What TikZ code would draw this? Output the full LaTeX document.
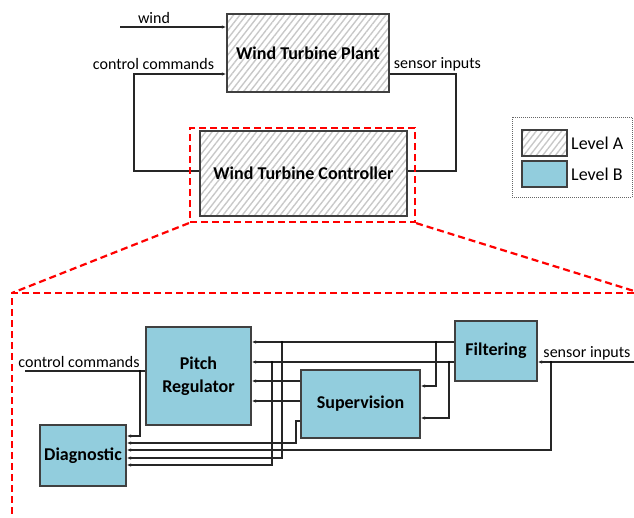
\documentclass[tikz,border=0pt]{standalone}
\usepackage{fontspec}
\setmainfont{Carlito}
\usetikzlibrary{arrows.meta,patterns.meta,calc}
\definecolor{levelB}{RGB}{146,205,221}
\definecolor{edge}{RGB}{64,64,64}
\definecolor{hatch}{RGB}{200,200,200}

\tikzset{
  boxtext/.style={inner sep=0pt, align=center, font=\fontsize{18}{22}\selectfont\bfseries},
  lvlA/.style={boxtext, draw=edge, line width=1.3pt,
    pattern={Lines[angle=52,distance=5pt,line width=1.4pt]}, pattern color=hatch},
  lvlB/.style={boxtext, draw=edge, line width=1.3pt, fill=levelB},
  wire/.style={draw=black!85, line width=1.1pt},
  arr/.style={wire, -{Latex[length=4.5pt,width=3.5pt]}},
  lbl/.style={font=\fontsize{16}{18}\selectfont, inner sep=0pt},
  legtext/.style={font=\fontsize{18}{20}\selectfont, inner sep=0pt, anchor=west},
  jdot/.style={circle, fill=black, inner sep=0pt, minimum size=2.4pt},
  zoomline/.style={draw=red, line width=2.2pt, dash pattern=on 7pt off 4pt},
}

\begin{document}
\begin{tikzpicture}[x=1pt,y=-1pt]
\useasboundingbox (0,0) rectangle (634,517);

% ---------- system level ----------
\node[lvlA, minimum width=162pt, minimum height=78pt] (plant) at (308,53) {Wind Turbine Plant};
\node[lvlA, minimum width=207pt, minimum height=85pt] (ctrl) at (303.5,173.5) {Wind Turbine Controller};

\coordinate (windsrc) at (120,27);
\draw[arr] (windsrc) -- (windsrc -| plant.west);
\node[lbl] (windlbl) at (154,18) {wind};

\draw[arr] (ctrl.west |- 0,171) -- (134,171) -- (134,74) -- (plant.west |- 0,74);
\node[lbl] (cclbl) at (153.5,64) {control commands};

\draw[wire] (plant.east |- 0,74) -- (456,74) -- (456,171) -- (ctrl.east |- 0,171);
\node[lbl] (senslbl) at (437.5,64) {sensor inputs};

% ---------- legend ----------
\node[draw=black!60, densely dotted, line width=1pt, minimum width=120pt, minimum height=80pt] (legend) at (572,157) {};
\node[draw=edge, line width=1.3pt, pattern={Lines[angle=52,distance=5pt,line width=1.4pt]}, pattern color=hatch,
      minimum width=45pt, minimum height=26pt, inner sep=0pt] (swA) at (544.5,143) {};
\node[draw=edge, line width=1.3pt, fill=levelB, minimum width=45pt, minimum height=26pt, inner sep=0pt] (swB) at (544.5,174) {};
\node[legtext] (legA) at (571,143) {Level A};
\node[legtext] (legB) at (571,174) {Level B};

% ---------- controller internals ----------
\node[lvlB, minimum width=105pt, minimum height=98pt] (pitch) at (198.5,376) {Pitch\\[1pt]Regulator};
\node[lvlB, minimum width=86pt, minimum height=61pt] (diag) at (83,455.5) {Diagnostic};
\node[lvlB, minimum width=119pt, minimum height=68pt] (sup) at (360.5,404) {Supervision};
\node[lvlB, minimum width=82pt, minimum height=60pt] (filt) at (496,351) {Filtering};

% junctions
\coordinate (jA1) at (436,342);
\coordinate (jA2) at (282,342);
\coordinate (jB1) at (449,362);
\coordinate (jB2) at (272,362);
\coordinate (jS) at (551,362);
\coordinate (jC) at (140,371);

% filtering outputs
\draw[arr] (filt.west |- jA1) -- (pitch.east |- jA1);
\draw[arr] (filt.west |- jB1) -- (pitch.east |- jB1);
\draw[arr] (jA1) -- (436,386) -- (sup.east |- 0,386);
\draw[arr] (jB1) -- (449,418) -- (sup.east |- 0,418);
\draw[arr] (jA2) -- (282,458) -- (diag.east |- 0,458);
\draw[arr] (jB2) -- (272,465) -- (diag.east |- 0,465);

% supervision outputs
\draw[arr] (sup.west |- 0,381) -- (pitch.east |- 0,381);
\draw[arr] (sup.west |- 0,401) -- (pitch.east |- 0,401);
\draw[arr] (sup.west |- 0,421) -- (296,421) -- (296,443) -- (diag.east |- 0,443);

% sensor inputs
\coordinate (sensin) at (634,362);
\draw[arr] (sensin) -- (filt.east |- sensin);
\draw[arr] (jS) -- (551,450) -- (diag.east |- 0,450);
\node[lbl] (senslbl2) at (587,353) {sensor inputs};

% control commands out of the pitch regulator
\coordinate (ccout) at (25,371);
\draw[wire] (pitch.west |- jC) -- (ccout);
\draw[arr] (jC) -- (140,436) -- (diag.east |- 0,436);
\node[lbl] (cclbl2) at (79,362) {control commands};

\foreach \j in {jA1,jA2,jB1,jB2,jS,jC} \node[jdot] at (\j) {};

% ---------- zoom frame ----------
\node[zoomline, minimum width=225pt, minimum height=94pt, inner sep=0pt] (redbox) at (302.5,175) {};
\coordinate (zl) at (12,293);
\coordinate (zr) at (634,291);
\draw[zoomline] (redbox.south west) -- (zl);
\draw[zoomline] (redbox.south east) -- (zr);
\draw[zoomline] (634,293) -- (zl) -- (12,517);
\end{tikzpicture}
\end{document}
